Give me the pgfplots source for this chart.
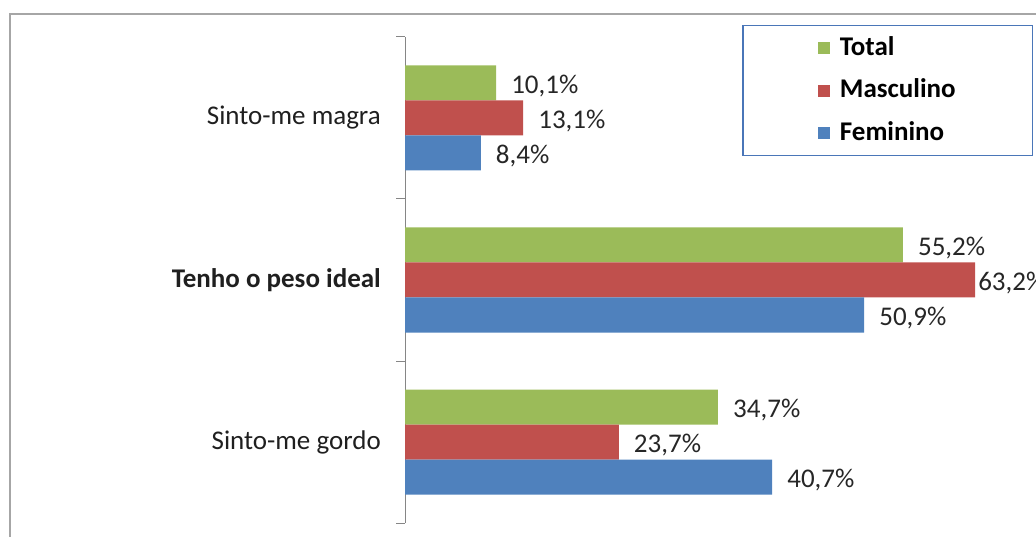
\documentclass[border=0pt]{standalone}
\usepackage{pgfplots}
\pgfplotsset{compat=1.18}
\usepackage{fontspec}
\setmainfont{Carlito}
\definecolor{cTotal}{HTML}{9BBB59}
\definecolor{cMasc}{HTML}{C0504D}
\definecolor{cFem}{HTML}{4F81BD}
\definecolor{framegray}{HTML}{A6A6A6}
\definecolor{axisgray}{HTML}{868686}
\definecolor{legblue}{HTML}{4A76B8}

\begin{document}
\fontsize{27}{32}\selectfont
\begin{tikzpicture}[x=1pt,y=1pt]
\draw[framegray, line width=2pt] (10,-10) -- (10,522) -- (1050,522);
\begin{axis}[
    at={(405pt,13pt)}, anchor=south west,
    scale only axis, width=631.4pt, height=486pt,
    xbar, bar width=35pt,
    xmin=0, xmax=70, ymin=-0.5, ymax=2.5,
    axis x line=none,
    axis y line*=left,
    y axis line style={axisgray, line width=1pt},
    ytick={0,1,2},
    yticklabels={Sinto-me gordo, \textbf{Tenho o peso ideal}, Sinto-me magra},
    major tick length=0pt,
    minor ytick={-0.5,0.5,1.5,2.5},
    minor tick length=9pt, tick align=outside,
    minor tick style={axisgray, line width=1pt},
    yticklabel style={xshift=-15pt, text=black!88},
    /pgf/number format/assume math mode=true,
    nodes near coords={\pgfmathprintnumber[fixed,zerofill,precision=1,use comma]{\pgfplotspointmeta}\%},
    nodes near coords style={anchor=west, xshift=6pt, yshift=-3pt, text=black!85},
    legend style={at={(0.534,1.0247)}, anchor=north west, draw=legblue, line width=1.5pt,
        inner xsep=75pt, inner ysep=9pt, row sep=15.3pt, column sep=8pt, font=\bfseries},
    legend cell align=left,
    legend image code/.code={\fill[#1] (0pt,-6pt) rectangle (12pt,6pt);},
]
% Total
\addplot[fill=cTotal, draw=none, bar shift=35pt] coordinates {(34.7,0) (55.2,1) (10.1,2)};
% Masculino
\addplot[fill=cMasc, draw=none, bar shift=0pt,
    coordinate style/.condition={x>60}{xshift=-12pt}] coordinates {(23.7,0) (63.2,1) (13.1,2)};
% Feminino
\addplot[fill=cFem, draw=none, bar shift=-35pt] coordinates {(40.7,0) (50.9,1) (8.4,2)};
\legend{Total, Masculino, Feminino}
\end{axis}
\pgfresetboundingbox
\path (0,0) rectangle (1036,536);
\end{tikzpicture}
\end{document}
